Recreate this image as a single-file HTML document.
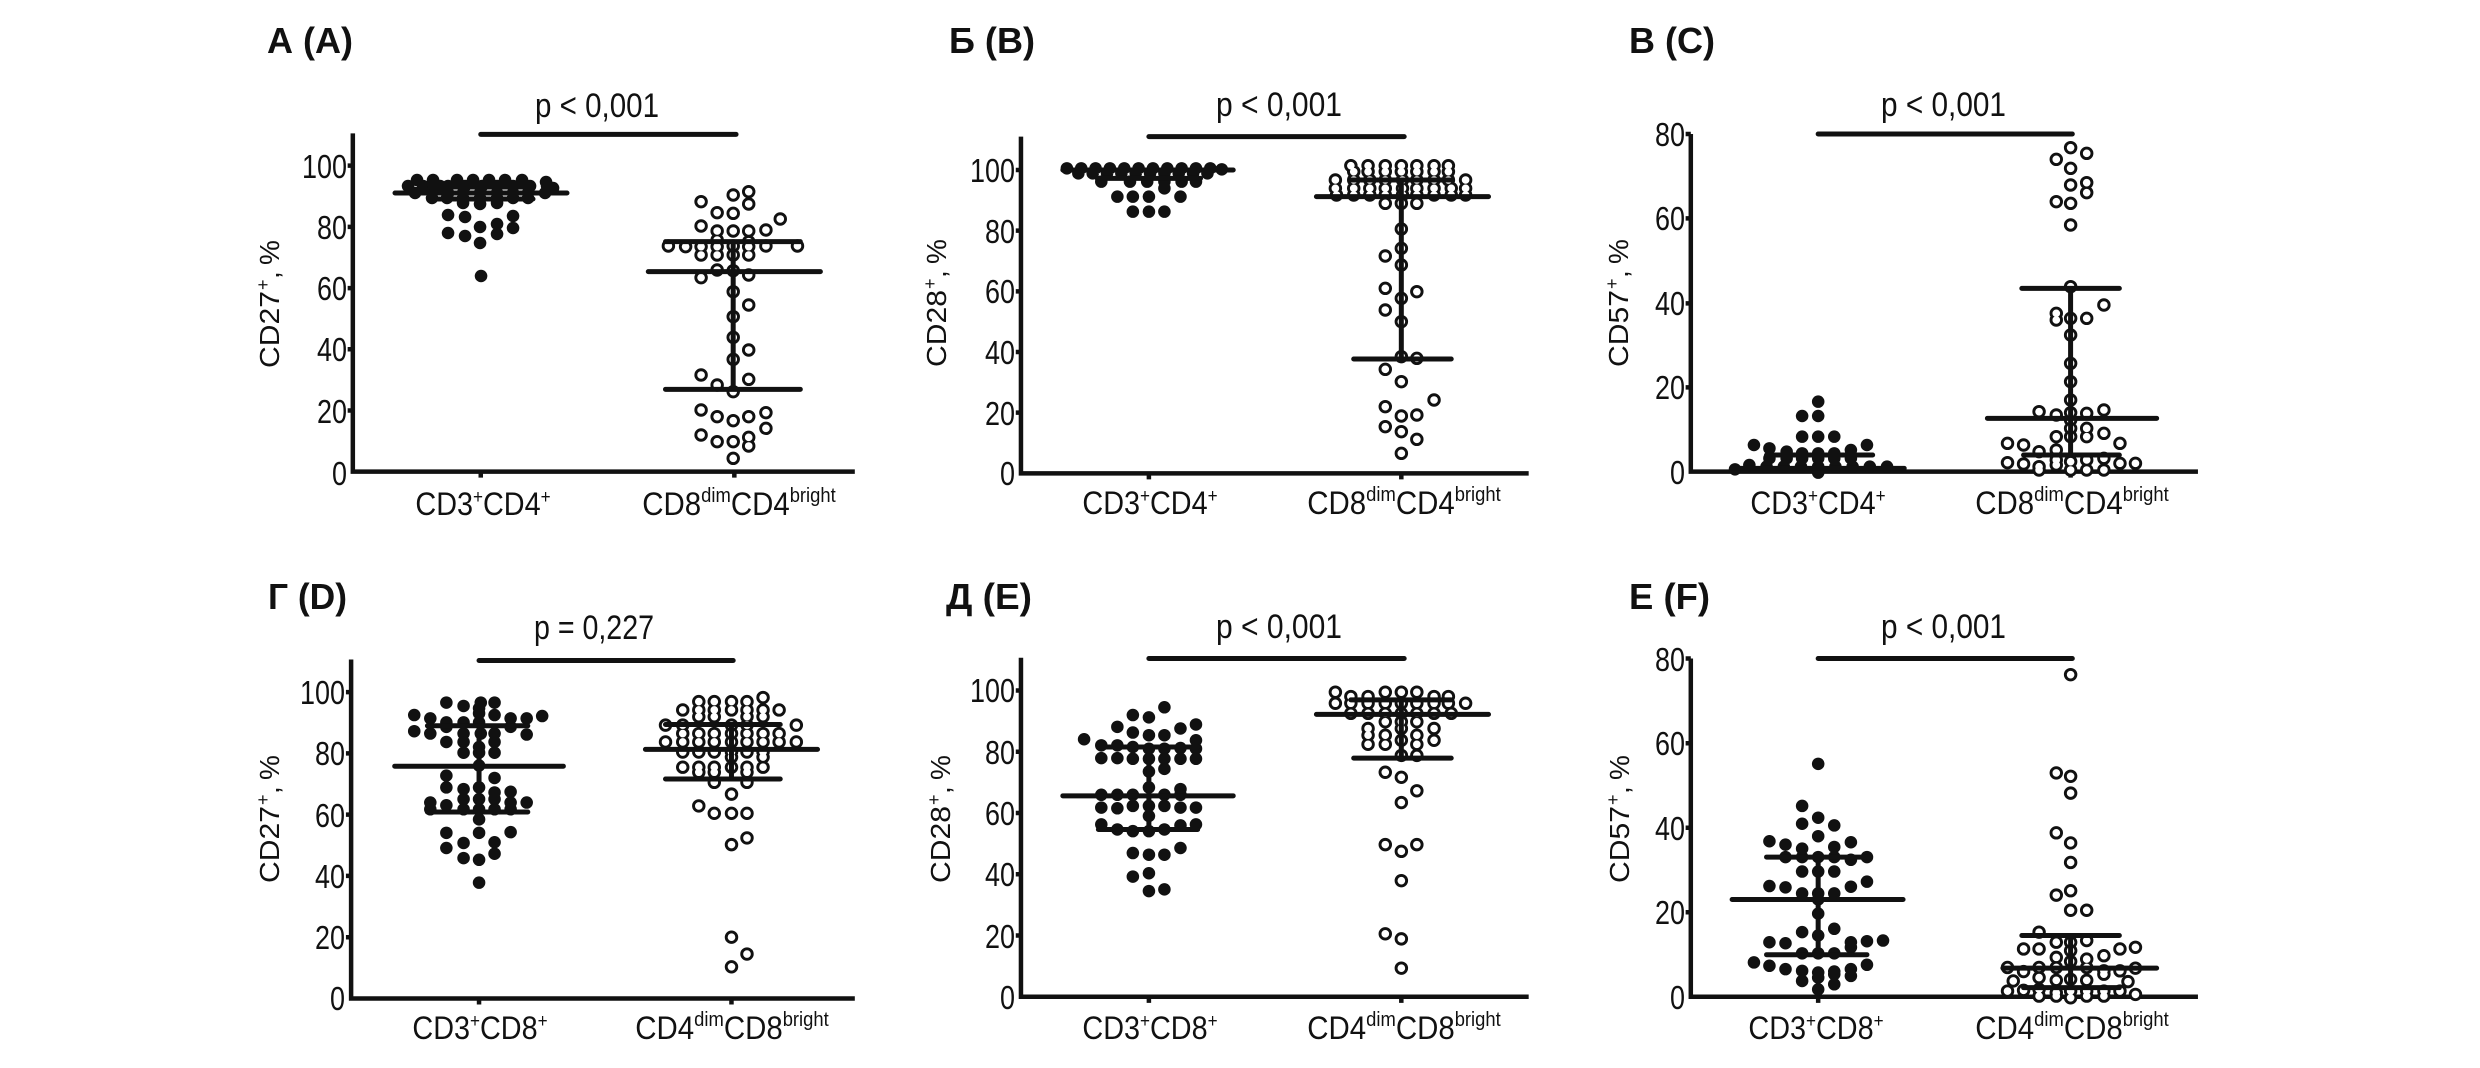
<!DOCTYPE html>
<html><head><meta charset="utf-8"><style>
html,body{margin:0;padding:0;background:#fff}
svg{display:block}
text{font-family:"Liberation Sans",Arial,sans-serif;fill:#111}
.dp{fill:none;stroke-linecap:round;vector-effect:non-scaling-stroke}
.a{fill:none;stroke:#111;stroke-width:4.5px;vector-effect:non-scaling-stroke}
.l{fill:none;stroke:#111;stroke-width:5px;stroke-linecap:round;vector-effect:non-scaling-stroke}
.t{font-size:33px}
.ti{font-size:36px;font-weight:bold}
.p{font-size:34px}
</style></head><body>
<svg width="2480" height="1068" viewBox="0 0 2480 1068" xmlns="http://www.w3.org/2000/svg">
<defs>
<path id="fA" class="dp" d="M417 180h.1M433 180h.1M457 180h.1M473 180h.1M489 180h.1M505 180h.1M522 180h.1M546 182h.1M408 186h.1M423 186h.1M440 186h.1M448 186h.1M465 186h.1M482 186h.1M497 186h.1M513 186h.1M530 186h.1M547 186h.1M553 188h.1M415 193h.1M432 193h.1M448 193h.1M463 193h.1M480 193h.1M497 193h.1M513 193h.1M528 193h.1M545 193h.1M432 198h.1M447 198h.1M463 198h.1M480 198h.1M497 198h.1M513 198h.1M528 198h.1M463 203h.1M480 204h.1M497 203h.1M448 215h.1M465 217h.1M513 216h.1M480 227h.1M497 224h.1M513 228h.1M448 233h.1M465 236h.1M497 234h.1M480 243h.1M481 276h.1"/>
<path id="oA" class="dp" d="M1222 605h.1M1278 585h.1M1305 575h.1M1305 612h.1M1250 638h.1M1278 640h.1M1360 657h.1M1222 678h.1M1250 693h.1M1278 693h.1M1305 693h.1M1335 690h.1M1165 738h.1M1195 740h.1M1222 740h.1M1250 740h.1M1278 738h.1M1305 740h.1M1335 738h.1M1390 738h.1M1250 720h.1M1305 725h.1M1222 765h.1M1250 765h.1M1278 765h.1M1305 765h.1M1250 810h.1M1278 812h.1M1222 833h.1M1305 825h.1M1278 875h.1M1305 915h.1M1278 950h.1M1278 1012h.1M1305 1050h.1M1278 1078h.1M1222 1125h.1M1250 1155h.1M1305 1138h.1M1278 1175h.1M1222 1230h.1M1250 1250h.1M1278 1262h.1M1305 1250h.1M1335 1238h.1M1335 1285h.1M1222 1305h.1M1250 1325h.1M1278 1325h.1M1305 1312h.1M1305 1338h.1M1278 1375h.1"/>
<path id="fB" class="dp" d="M500 505h.1M525 505h.1M550 505h.1M575 505h.1M600 505h.1M625 505h.1M650 505h.1M675 505h.1M700 505h.1M725 505h.1M750 505h.1M770 508h.1M520 520h.1M545 520h.1M570 520h.1M595 520h.1M620 520h.1M645 520h.1M670 520h.1M695 520h.1M720 520h.1M745 520h.1M560 545h.1M610 545h.1M640 545h.1M670 545h.1M700 545h.1M725 545h.1M670 565h.1M588 590h.1M615 590h.1M643 590h.1M698 590h.1M615 635h.1M643 635h.1M670 635h.1"/>
<path id="oB" class="dp" d="M995 497h.1M1025 497h.1M1055 497h.1M1083 497h.1M1110 497h.1M1140 497h.1M1165 497h.1M1000 515h.1M1025 515h.1M1055 515h.1M1083 515h.1M1110 515h.1M1140 515h.1M1165 515h.1M968 540h.1M1000 540h.1M1028 540h.1M1055 540h.1M1085 540h.1M1110 540h.1M1140 540h.1M1165 540h.1M1195 540h.1M968 565h.1M1000 565h.1M1028 565h.1M1055 565h.1M1085 565h.1M1110 565h.1M1140 565h.1M1170 565h.1M1195 565h.1M970 585h.1M1000 585h.1M1028 585h.1M1055 585h.1M1085 585h.1M1110 585h.1M1140 585h.1M1170 585h.1M1195 585h.1M1055 610h.1M1083 610h.1M1110 610h.1M1083 687h.1M1083 745h.1M1055 768h.1M1083 795h.1M1055 865h.1M1083 895h.1M1110 875h.1M1055 930h.1M1083 965h.1M1083 1070h.1M1110 1075h.1M1055 1108h.1M1083 1145h.1M1055 1220h.1M1083 1248h.1M1110 1245h.1M1140 1200h.1M1055 1280h.1M1083 1295h.1M1110 1318h.1M1083 1360h.1"/>
<path id="fC" class="dp" d="M450 1205h.1M450 1248h.1M422 1248h.1M422 1310h.1M450 1310h.1M478 1310h.1M338 1335h.1M365 1345h.1M395 1355h.1M422 1360h.1M450 1360h.1M478 1360h.1M507 1350h.1M535 1335h.1M365 1375h.1M395 1375h.1M422 1375h.1M450 1375h.1M478 1375h.1M507 1375h.1M330 1395h.1M360 1400h.1M390 1400h.1M420 1400h.1M450 1400h.1M480 1400h.1M510 1400h.1M540 1400h.1M570 1400h.1M305 1408h.1M450 1418h.1"/>
<path id="oC" class="dp" d="M865 478h.1M890 443h.1M918 460h.1M890 505h.1M890 555h.1M918 548h.1M918 578h.1M865 605h.1M890 610h.1M890 675h.1M890 860h.1M865 940h.1M890 955h.1M918 955h.1M948 915h.1M865 960h.1M890 1005h.1M890 1090h.1M890 1145h.1M890 1200h.1M835 1235h.1M865 1245h.1M890 1238h.1M918 1240h.1M948 1230h.1M890 1260h.1M780 1330h.1M808 1335h.1M835 1355h.1M865 1350h.1M890 1310h.1M918 1310h.1M948 1300h.1M976 1330h.1M890 1285h.1M918 1285h.1M865 1310h.1M780 1388h.1M808 1392h.1M835 1400h.1M865 1380h.1M890 1385h.1M918 1380h.1M948 1375h.1M976 1390h.1M1003 1390h.1M835 1410h.1M890 1410h.1M918 1410h.1M948 1410h.1M865 1395h.1"/>
<path id="fD" class="dp" d="M778 483h.1M838 483h.1M862 483h.1M808 493h.1M835 500h.1M835 515h.1M722 520h.1M750 530h.1M778 542h.1M808 542h.1M835 542h.1M862 520h.1M890 530h.1M918 530h.1M945 523h.1M722 568h.1M750 575h.1M778 555h.1M808 575h.1M838 575h.1M862 575h.1M890 555h.1M918 578h.1M778 600h.1M808 600h.1M835 615h.1M862 600h.1M808 632h.1M835 632h.1M862 632h.1M835 670h.1M778 700h.1M862 707h.1M778 735h.1M808 740h.1M835 735h.1M862 750h.1M890 748h.1M808 770h.1M835 770h.1M862 770h.1M750 780h.1M778 788h.1M890 780h.1M918 780h.1M750 800h.1M808 800h.1M835 800h.1M862 800h.1M890 800h.1M835 830h.1M778 870h.1M835 870h.1M890 868h.1M778 915h.1M808 900h.1M862 898h.1M835 950h.1M808 945h.1M862 932h.1M835 1018h.1"/>
<path id="oD" class="dp" d="M1218 480h.1M1245 480h.1M1275 480h.1M1302 480h.1M1330 468h.1M1190 505h.1M1218 505h.1M1245 505h.1M1275 505h.1M1302 505h.1M1330 505h.1M1358 505h.1M1218 525h.1M1245 525h.1M1302 525h.1M1330 525h.1M1160 550h.1M1190 550h.1M1275 550h.1M1302 550h.1M1388 550h.1M1190 575h.1M1218 575h.1M1245 575h.1M1275 575h.1M1302 575h.1M1330 575h.1M1358 575h.1M1160 600h.1M1190 600h.1M1218 600h.1M1245 600h.1M1275 600h.1M1302 600h.1M1330 600h.1M1358 600h.1M1388 600h.1M1190 630h.1M1218 630h.1M1245 630h.1M1275 630h.1M1302 630h.1M1330 630h.1M1275 645h.1M1330 645h.1M1190 675h.1M1218 675h.1M1245 675h.1M1275 675h.1M1302 675h.1M1330 675h.1M1218 690h.1M1245 690h.1M1302 690h.1M1245 720h.1M1302 720h.1M1275 755h.1M1218 790h.1M1245 812h.1M1275 812h.1M1302 812h.1M1302 885h.1M1275 905h.1M1275 1180h.1M1302 1230h.1M1275 1268h.1"/>
<path id="fE" class="dp" d="M670 497h.1M615 520h.1M643 527h.1M588 555h.1M615 572h.1M643 580h.1M670 580h.1M698 560h.1M725 548h.1M530 592h.1M725 595h.1M560 610h.1M588 610h.1M615 615h.1M643 620h.1M670 620h.1M698 618h.1M725 620h.1M560 648h.1M588 648h.1M615 650h.1M643 650h.1M670 650h.1M698 650h.1M725 650h.1M643 688h.1M670 680h.1M643 735h.1M698 740h.1M560 757h.1M588 757h.1M615 757h.1M670 757h.1M698 757h.1M560 795h.1M588 797h.1M615 790h.1M643 790h.1M670 790h.1M698 795h.1M725 795h.1M643 820h.1M560 845h.1M588 860h.1M615 865h.1M643 865h.1M670 860h.1M698 848h.1M725 845h.1M698 915h.1M615 930h.1M643 935h.1M670 935h.1M615 1000h.1M643 990h.1M643 1043h.1M670 1038h.1"/>
<path id="oE" class="dp" d="M968 452h.1M1055 452h.1M1083 452h.1M1110 452h.1M995 465h.1M1025 465h.1M1140 465h.1M1165 465h.1M968 485h.1M995 485h.1M1025 485h.1M1055 485h.1M1083 485h.1M1110 485h.1M1140 485h.1M1165 485h.1M1195 485h.1M995 515h.1M1025 515h.1M1055 515h.1M1083 515h.1M1110 515h.1M1140 515h.1M1170 515h.1M1055 540h.1M1083 540h.1M1110 540h.1M1025 560h.1M1083 560h.1M1140 560h.1M1025 580h.1M1055 580h.1M1110 580h.1M1083 595h.1M1140 595h.1M1025 607h.1M1055 607h.1M1110 607h.1M1083 640h.1M1110 640h.1M1055 690h.1M1083 705h.1M1110 745h.1M1083 780h.1M1055 905h.1M1110 905h.1M1083 925h.1M1083 1012h.1M1055 1170h.1M1083 1185h.1M1083 1272h.1"/>
<path id="fF" class="dp" d="M450 665h.1M422 790h.1M450 825h.1M422 843h.1M478 848h.1M450 880h.1M365 895h.1M393 905h.1M422 917h.1M478 912h.1M507 898h.1M393 942h.1M422 942h.1M450 942h.1M478 942h.1M535 942h.1M507 950h.1M422 985h.1M450 985h.1M478 985h.1M365 1028h.1M393 1032h.1M422 1050h.1M450 1050h.1M478 1050h.1M507 1030h.1M535 1015h.1M450 1068h.1M450 1110h.1M422 1165h.1M450 1175h.1M478 1155h.1M365 1195h.1M393 1198h.1M507 1195h.1M535 1192h.1M563 1190h.1M422 1228h.1M450 1228h.1M478 1228h.1M507 1210h.1M338 1255h.1M365 1265h.1M393 1275h.1M422 1280h.1M450 1285h.1M478 1282h.1M507 1275h.1M535 1262h.1M422 1310h.1M450 1300h.1M478 1290h.1M507 1295h.1M478 1320h.1M450 1335h.1"/>
<path id="oF" class="dp" d="M890 400h.1M865 692h.1M890 702h.1M890 752h.1M865 870h.1M890 900h.1M890 958h.1M865 1055h.1M890 1042h.1M890 1100h.1M918 1100h.1M835 1165h.1M865 1195h.1M890 1195h.1M918 1190h.1M808 1215h.1M835 1215h.1M865 1240h.1M890 1220h.1M918 1245h.1M948 1235h.1M976 1215h.1M1003 1210h.1M780 1270h.1M808 1282h.1M835 1270h.1M865 1270h.1M890 1252h.1M918 1270h.1M948 1280h.1M976 1280h.1M1003 1272h.1M790 1310h.1M835 1300h.1M865 1308h.1M890 1305h.1M918 1308h.1M948 1290h.1M990 1312h.1M780 1340h.1M808 1338h.1M835 1335h.1M865 1345h.1M890 1340h.1M918 1340h.1M948 1340h.1M976 1340h.1M1003 1350h.1M835 1355h.1M865 1355h.1M890 1360h.1M918 1355h.1M948 1355h.1"/>
</defs>

<!-- Panel A -->
<g>
<use href="#fA" stroke="#111" stroke-width="12.5"/>
<path class="l" d="M395 193H567M430 199H533M430 187H533"/>
</g>
<g transform="scale(0.5737,0.33333)">
<path class="a" d="M615 400V1415H1490M606 497H615M606 680.6H615M606 864.2H615M606 1047.8H615M606 1231.4H615M838 1415V1433M1280 1415V1433"/>
<path class="l" d="M838 403H1283"/>
<use href="#oA" stroke="#111" stroke-width="13.4"/>
<use href="#oA" stroke="#fff" stroke-width="7.6"/>
<path class="l" d="M1130 815H1430M1160 725H1395M1160 1168H1395M1278 725V1168"/>
</g>
<!-- Panel B -->
<g transform="translate(780,0) scale(0.5737,0.33333)">
<path class="a" d="M420 410V1420H1305M411 510H420M411 692H420M411 874H420M411 1056H420M411 1238H420M643 1420V1438M1083 1420V1438"/>
<path class="l" d="M643 410H1088"/>
<use href="#fB" stroke="#111" stroke-width="12.5"/>
<use href="#oB" stroke="#111" stroke-width="13.4"/>
<use href="#oB" stroke="#fff" stroke-width="7.6"/>
<path class="l" d="M493 510H790M553 535H733M935 590H1235M995 540H1170M1000 1077H1170M1083 540V1077"/>
</g>
<!-- Panel C -->
<g transform="translate(1560,0) scale(0.5737,0.33333)">
<path class="a" d="M228 402V1415H1112M219 402H228M219 655H228M219 910H228M219 1162H228M450 1415V1433M890 1415V1433"/>
<path class="l" d="M450 402H893"/>
<use href="#fC" stroke="#111" stroke-width="12.5"/>
<use href="#oC" stroke="#111" stroke-width="13.4"/>
<use href="#oC" stroke="#fff" stroke-width="7.6"/>
<path class="l" d="M300 1405H600M360 1365H545M450 1365V1405M745 1255H1040M805 865H975M808 1365H975M890 865V1365"/>
</g>
<!-- Panel D -->
<g transform="translate(0,540) scale(0.5737,0.3366)">
<path class="a" d="M612 355V1362H1490M603 452H612M603 634H612M603 816H612M603 998H612M603 1180H612M835 1362V1380M1275 1362V1380"/>
<path class="l" d="M835 358H1278"/>
<use href="#fD" stroke="#111" stroke-width="12.5"/>
<use href="#oD" stroke="#111" stroke-width="13.4"/>
<use href="#oD" stroke="#fff" stroke-width="7.6"/>
<path class="l" d="M688 672H982M745 552H920M745 808H920M835 552V808M1125 622H1425M1160 548H1360M1160 710H1360M1275 548V710"/>
</g>
<!-- Panel E -->
<g transform="translate(780,540) scale(0.5737,0.3366)">
<path class="a" d="M420 350V1357H1305M411 447H420M411 629H420M411 811H420M411 993H420M411 1175H420M643 1357V1375M1083 1357V1375"/>
<path class="l" d="M643 352H1088"/>
<use href="#fE" stroke="#111" stroke-width="12.5"/>
<use href="#oE" stroke="#111" stroke-width="13.4"/>
<use href="#oE" stroke="#fff" stroke-width="7.6"/>
<path class="l" d="M493 760H790M555 615H728M555 860H728M643 615V860M935 518H1235M995 475H1170M1000 648H1170M1083 475V648"/>
</g>
<!-- Panel F -->
<g transform="translate(1560,540) scale(0.5737,0.3366)">
<path class="a" d="M228 352V1357H1112M219 352H228M219 604H228M219 855H228M219 1106H228M450 1357V1375M890 1357V1375"/>
<path class="l" d="M450 352H893"/>
<use href="#fF" stroke="#111" stroke-width="12.5"/>
<use href="#oF" stroke="#111" stroke-width="13.4"/>
<use href="#oF" stroke="#fff" stroke-width="7.6"/>
<path class="l" d="M300 1068H598M360 942H540M360 1232H535M450 942V1232M772 1272H1040M805 1175H975M808 1330H975M890 1175V1330"/>
</g>

<!-- Titles -->
<text class="ti" x="267" y="53" textLength="86" lengthAdjust="spacingAndGlyphs">А (A)</text>
<text class="ti" x="949" y="53" textLength="86" lengthAdjust="spacingAndGlyphs">Б (B)</text>
<text class="ti" x="1629" y="53" textLength="86" lengthAdjust="spacingAndGlyphs">В (C)</text>
<text class="ti" x="268" y="609" textLength="79" lengthAdjust="spacingAndGlyphs">Г (D)</text>
<text class="ti" x="946" y="609" textLength="86" lengthAdjust="spacingAndGlyphs">Д (E)</text>
<text class="ti" x="1629" y="609" textLength="81" lengthAdjust="spacingAndGlyphs">Е (F)</text>

<!-- p values -->
<text class="p" x="535" y="117" textLength="124" lengthAdjust="spacingAndGlyphs">p &lt; 0,001</text>
<text class="p" x="1216" y="116" textLength="126" lengthAdjust="spacingAndGlyphs">p &lt; 0,001</text>
<text class="p" x="1881" y="116" textLength="125" lengthAdjust="spacingAndGlyphs">p &lt; 0,001</text>
<text class="p" x="534" y="639" textLength="120" lengthAdjust="spacingAndGlyphs">p = 0,227</text>
<text class="p" x="1216" y="638" textLength="126" lengthAdjust="spacingAndGlyphs">p &lt; 0,001</text>
<text class="p" x="1881" y="638" textLength="125" lengthAdjust="spacingAndGlyphs">p &lt; 0,001</text>

<!-- Tick labels -->
<g class="t" text-anchor="end" lengthAdjust="spacingAndGlyphs">
<text x="347" y="178" textLength="45" lengthAdjust="spacingAndGlyphs">100</text><text x="347" y="239" textLength="30" lengthAdjust="spacingAndGlyphs">80</text><text x="347" y="300" textLength="30" lengthAdjust="spacingAndGlyphs">60</text><text x="347" y="361" textLength="30" lengthAdjust="spacingAndGlyphs">40</text><text x="347" y="423" textLength="30" lengthAdjust="spacingAndGlyphs">20</text><text x="347" y="485" textLength="15" lengthAdjust="spacingAndGlyphs">0</text>
<text x="1015" y="182" textLength="45" lengthAdjust="spacingAndGlyphs">100</text><text x="1015" y="243" textLength="30" lengthAdjust="spacingAndGlyphs">80</text><text x="1015" y="303" textLength="30" lengthAdjust="spacingAndGlyphs">60</text><text x="1015" y="364" textLength="30" lengthAdjust="spacingAndGlyphs">40</text><text x="1015" y="425" textLength="30" lengthAdjust="spacingAndGlyphs">20</text><text x="1015" y="485" textLength="15" lengthAdjust="spacingAndGlyphs">0</text>
<text x="1685" y="146" textLength="30" lengthAdjust="spacingAndGlyphs">80</text><text x="1685" y="230" textLength="30" lengthAdjust="spacingAndGlyphs">60</text><text x="1685" y="315" textLength="30" lengthAdjust="spacingAndGlyphs">40</text><text x="1685" y="399" textLength="30" lengthAdjust="spacingAndGlyphs">20</text><text x="1685" y="484" textLength="15" lengthAdjust="spacingAndGlyphs">0</text>
<text x="345" y="704" textLength="45" lengthAdjust="spacingAndGlyphs">100</text><text x="345" y="765" textLength="30" lengthAdjust="spacingAndGlyphs">80</text><text x="345" y="827" textLength="30" lengthAdjust="spacingAndGlyphs">60</text><text x="345" y="888" textLength="30" lengthAdjust="spacingAndGlyphs">40</text><text x="345" y="949" textLength="30" lengthAdjust="spacingAndGlyphs">20</text><text x="345" y="1010" textLength="15" lengthAdjust="spacingAndGlyphs">0</text>
<text x="1015" y="702" textLength="45" lengthAdjust="spacingAndGlyphs">100</text><text x="1015" y="764" textLength="30" lengthAdjust="spacingAndGlyphs">80</text><text x="1015" y="825" textLength="30" lengthAdjust="spacingAndGlyphs">60</text><text x="1015" y="886" textLength="30" lengthAdjust="spacingAndGlyphs">40</text><text x="1015" y="948" textLength="30" lengthAdjust="spacingAndGlyphs">20</text><text x="1015" y="1009" textLength="15" lengthAdjust="spacingAndGlyphs">0</text>
<text x="1685" y="671" textLength="30" lengthAdjust="spacingAndGlyphs">80</text><text x="1685" y="755" textLength="30" lengthAdjust="spacingAndGlyphs">60</text><text x="1685" y="840" textLength="30" lengthAdjust="spacingAndGlyphs">40</text><text x="1685" y="924" textLength="30" lengthAdjust="spacingAndGlyphs">20</text><text x="1685" y="1009" textLength="15" lengthAdjust="spacingAndGlyphs">0</text>
</g>

<!-- Y labels -->
<g transform="translate(279,368) rotate(-90)"><text x="0" y="0" font-size="28" textLength="77" lengthAdjust="spacingAndGlyphs">CD27</text><text x="78" y="-10" font-size="18">+</text><text x="89" y="0" font-size="28">,</text><text x="103" y="0" font-size="28">%</text></g>
<g transform="translate(946,367) rotate(-90)"><text x="0" y="0" font-size="28" textLength="77" lengthAdjust="spacingAndGlyphs">CD28</text><text x="78" y="-10" font-size="18">+</text><text x="89" y="0" font-size="28">,</text><text x="103" y="0" font-size="28">%</text></g>
<g transform="translate(1628,367) rotate(-90)"><text x="0" y="0" font-size="28" textLength="77" lengthAdjust="spacingAndGlyphs">CD57</text><text x="78" y="-10" font-size="18">+</text><text x="89" y="0" font-size="28">,</text><text x="103" y="0" font-size="28">%</text></g>
<g transform="translate(279,883) rotate(-90)"><text x="0" y="0" font-size="28" textLength="77" lengthAdjust="spacingAndGlyphs">CD27</text><text x="78" y="-10" font-size="18">+</text><text x="89" y="0" font-size="28">,</text><text x="103" y="0" font-size="28">%</text></g>
<g transform="translate(950,883) rotate(-90)"><text x="0" y="0" font-size="28" textLength="77" lengthAdjust="spacingAndGlyphs">CD28</text><text x="78" y="-10" font-size="18">+</text><text x="89" y="0" font-size="28">,</text><text x="103" y="0" font-size="28">%</text></g>
<g transform="translate(1629,883) rotate(-90)"><text x="0" y="0" font-size="28" textLength="77" lengthAdjust="spacingAndGlyphs">CD57</text><text x="78" y="-10" font-size="18">+</text><text x="89" y="0" font-size="28">,</text><text x="103" y="0" font-size="28">%</text></g>

<!-- X labels -->
<g transform="translate(483,515) scale(0.9,1)"><text text-anchor="middle" font-size="32">CD3<tspan font-size="19" dy="-12">+</tspan><tspan dy="12">CD4</tspan><tspan font-size="19" dy="-12">+</tspan></text></g>
<g transform="translate(739,515) scale(0.92,1)"><text text-anchor="middle" font-size="32">CD8<tspan font-size="20" dy="-13">dim</tspan><tspan dy="13">CD4</tspan><tspan font-size="20" dy="-13">bright</tspan></text></g>
<g transform="translate(1150,514) scale(0.9,1)"><text text-anchor="middle" font-size="32">CD3<tspan font-size="19" dy="-12">+</tspan><tspan dy="12">CD4</tspan><tspan font-size="19" dy="-12">+</tspan></text></g>
<g transform="translate(1404,514) scale(0.92,1)"><text text-anchor="middle" font-size="32">CD8<tspan font-size="20" dy="-13">dim</tspan><tspan dy="13">CD4</tspan><tspan font-size="20" dy="-13">bright</tspan></text></g>
<g transform="translate(1818,514) scale(0.9,1)"><text text-anchor="middle" font-size="32">CD3<tspan font-size="19" dy="-12">+</tspan><tspan dy="12">CD4</tspan><tspan font-size="19" dy="-12">+</tspan></text></g>
<g transform="translate(2072,514) scale(0.92,1)"><text text-anchor="middle" font-size="32">CD8<tspan font-size="20" dy="-13">dim</tspan><tspan dy="13">CD4</tspan><tspan font-size="20" dy="-13">bright</tspan></text></g>
<g transform="translate(480,1039) scale(0.9,1)"><text text-anchor="middle" font-size="32">CD3<tspan font-size="19" dy="-12">+</tspan><tspan dy="12">CD8</tspan><tspan font-size="19" dy="-12">+</tspan></text></g>
<g transform="translate(732,1039) scale(0.92,1)"><text text-anchor="middle" font-size="32">CD4<tspan font-size="20" dy="-13">dim</tspan><tspan dy="13">CD8</tspan><tspan font-size="20" dy="-13">bright</tspan></text></g>
<g transform="translate(1150,1039) scale(0.9,1)"><text text-anchor="middle" font-size="32">CD3<tspan font-size="19" dy="-12">+</tspan><tspan dy="12">CD8</tspan><tspan font-size="19" dy="-12">+</tspan></text></g>
<g transform="translate(1404,1039) scale(0.92,1)"><text text-anchor="middle" font-size="32">CD4<tspan font-size="20" dy="-13">dim</tspan><tspan dy="13">CD8</tspan><tspan font-size="20" dy="-13">bright</tspan></text></g>
<g transform="translate(1816,1039) scale(0.9,1)"><text text-anchor="middle" font-size="32">CD3<tspan font-size="19" dy="-12">+</tspan><tspan dy="12">CD8</tspan><tspan font-size="19" dy="-12">+</tspan></text></g>
<g transform="translate(2072,1039) scale(0.92,1)"><text text-anchor="middle" font-size="32">CD4<tspan font-size="20" dy="-13">dim</tspan><tspan dy="13">CD8</tspan><tspan font-size="20" dy="-13">bright</tspan></text></g>
</svg>
</body></html>
